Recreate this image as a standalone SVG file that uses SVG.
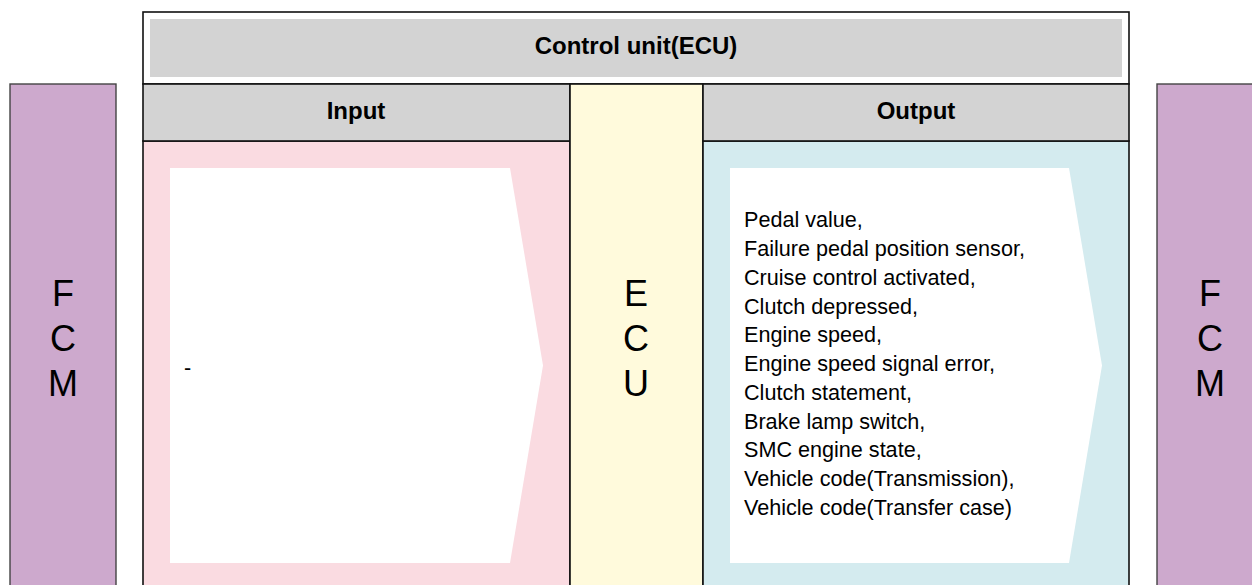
<svg xmlns="http://www.w3.org/2000/svg" width="1252" height="585" viewBox="0 0 1252 585">
  <style>
    .lbl { font-family: "Liberation Sans", Arial, sans-serif; fill: #000; }
    .head { font-size: 24px; font-weight: bold; text-anchor: middle; }
    .big { font-size: 36px; text-anchor: middle; }
    .item { font-size: 21.6px; }
    .frame { stroke: #111; stroke-width: 1.6; }
    .side { fill: #cda9cd; stroke: #444; stroke-width: 1.4; }
  </style>

  <!-- Side modules -->
  <g id="fcm-left">
    <rect class="side" x="10" y="84" width="106" height="520"/>
    <text class="lbl big" x="63" y="306">F</text>
    <text class="lbl big" x="63" y="351">C</text>
    <text class="lbl big" x="63" y="396">M</text>
  </g>
  <g id="fcm-right">
    <rect class="side" x="1157" y="84" width="106" height="520"/>
    <text class="lbl big" x="1210" y="306">F</text>
    <text class="lbl big" x="1210" y="351">C</text>
    <text class="lbl big" x="1210" y="396">M</text>
  </g>

  <!-- Control unit title -->
  <g id="control-unit">
    <rect class="frame" x="143" y="12" width="986" height="72" fill="#ffffff"/>
    <rect x="150" y="19" width="972" height="58" fill="#d3d3d3"/>
    <text class="lbl head" x="636" y="54">Control unit(ECU)</text>
  </g>

  <!-- Input column -->
  <g id="input">
    <rect class="frame" x="143" y="141" width="427" height="460" fill="#fadbe1"/>
    <rect class="frame" x="143" y="84" width="427" height="57" fill="#d3d3d3"/>
    <text class="lbl head" x="356" y="119">Input</text>
    <polygon points="170,168 510,168 543,365.5 510,563 170,563" fill="#ffffff"/>
    <text class="lbl item" x="184" y="375">-</text>
  </g>

  <!-- ECU column -->
  <g id="ecu">
    <rect class="frame" x="570" y="84" width="133" height="520" fill="#fffadc"/>
    <text class="lbl big" x="636" y="306">E</text>
    <text class="lbl big" x="636" y="351">C</text>
    <text class="lbl big" x="636" y="396">U</text>
  </g>

  <!-- Output column -->
  <g id="output">
    <rect class="frame" x="703" y="141" width="426" height="460" fill="#d4ebef"/>
    <rect class="frame" x="703" y="84" width="426" height="57" fill="#d3d3d3"/>
    <text class="lbl head" x="916" y="119">Output</text>
    <polygon points="730,168 1069,168 1102,365.5 1069,563 730,563" fill="#ffffff"/>
    <text class="lbl item" x="744">
      <tspan x="744" y="227">Pedal value,</tspan>
      <tspan x="744" y="256">Failure pedal position sensor,</tspan>
      <tspan x="744" y="285">Cruise control activated,</tspan>
      <tspan x="744" y="314">Clutch depressed,</tspan>
      <tspan x="744" y="342">Engine speed,</tspan>
      <tspan x="744" y="371">Engine speed signal error,</tspan>
      <tspan x="744" y="400">Clutch statement,</tspan>
      <tspan x="744" y="429">Brake lamp switch,</tspan>
      <tspan x="744" y="457">SMC engine state,</tspan>
      <tspan x="744" y="486">Vehicle code(Transmission),</tspan>
      <tspan x="744" y="515">Vehicle code(Transfer case)</tspan>
    </text>
  </g>

  <!-- No connectors in this layout -->
  <g id="connectors"/>
</svg>
